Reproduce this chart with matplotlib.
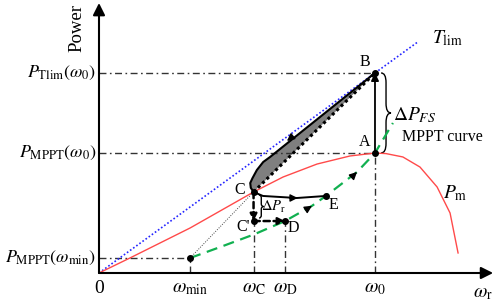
import numpy as np
import matplotlib
matplotlib.use('Agg')
import matplotlib.pyplot as plt
from matplotlib.path import Path
from matplotlib.patches import PathPatch

plt.rcParams['font.family'] = ['Liberation Serif', 'DejaVu Serif']
plt.rcParams['mathtext.fontset'] = 'stix'

# ключевые точки (omega в долях omega0, мощность в долях P_MPPT(omega0))
w_min, w_C, w_D, w_0 = 0.33, 0.56, 0.674, 1.0
P_tlim0 = 1.667
P_mppt0 = 1.0
P_mppt_min = 0.125
P_C = 0.675
P_Cp = 0.433
P_E = 0.642
w_E = 0.822

# кривая P_m
pm_w = [0, 0.112, 0.33, 0.56, 0.667, 0.79, 0.909, 1.0, 1.04, 1.101, 1.163, 1.225, 1.272, 1.301]
pm_p = [0, 0.125, 0.375, 0.675, 0.8, 0.908, 0.975, 1.0, 0.995, 0.967, 0.883, 0.717, 0.5, 0.167]

# кривая MPPT
mppt_w = [0.33, 0.44, 0.56, 0.674, 0.772, 0.822, 0.935, 1.0, 1.065]
mppt_p = [0.125, 0.217, 0.32, 0.433, 0.56, 0.642, 0.842, 1.0, 1.25]

# линия T_lim
tlim_w = [0, 1.156]
tlim_p = [0, 1.927]

# верхняя граница серой области (B -> C)
up_w = [1.0, 0.62, 0.595, 0.572, 0.556, 0.548, 0.55, 0.56]
up_p = [1.667, 0.967, 0.925, 0.858, 0.79, 0.75, 0.71, 0.675]

# путь C -> E
ce_w = [0.56, 0.594, 0.717, 0.822]
ce_p = [0.675, 0.642, 0.625, 0.642]

fig = plt.figure(figsize=(4.98, 3.06), dpi=100)
ax = fig.add_axes([0, 0, 1, 1])
ax.set_xlim(-0.3587, 1.4457)
ax.set_ylim(-0.275, 2.275)
ax.axis('off')

dd = (0, (5, 2.5, 1.2, 2.5))
dcol = '#333333'


def arrow(x1, y1, x2, y2, **kw):
    props = dict(arrowstyle='-|>', color='k', lw=1.3, shrinkA=0, shrinkB=0, mutation_scale=10)
    props.update(kw)
    ax.annotate('', xy=(x2, y2), xytext=(x1, y1), arrowprops=props)


def head(x, y, dx, dy, color='k', ms=11):
    # стрелка-наконечник посреди линии
    n = np.hypot(dx, dy)
    e = 0.03
    arrow(x - e * dx / n, y - e * dy / n, x, y, color=color, lw=1.0, mutation_scale=ms)


def brace(x0, y0, y1, w):
    ym = (y0 + y1) / 2
    h = (y1 - y0)
    verts = [(x0, y1), (x0 + w * 0.5, y1), (x0 + w * 0.5, y1 - h * 0.12), (x0 + w * 0.5, ym + h * 0.12),
             (x0 + w * 0.5, ym), (x0 + w, ym),
             (x0 + w * 0.5, ym), (x0 + w * 0.5, ym - h * 0.12),
             (x0 + w * 0.5, y0 + h * 0.12), (x0 + w * 0.5, y0), (x0, y0)]
    codes = [Path.MOVETO, Path.CURVE3, Path.CURVE3, Path.LINETO,
             Path.CURVE3, Path.CURVE3, Path.CURVE3, Path.CURVE3,
             Path.LINETO, Path.CURVE3, Path.CURVE3]
    ax.add_patch(PathPatch(Path(verts, codes), fill=False, lw=1.0, color='k'))


# оси
arrow(0, 0, 0, 2.25, lw=1.5, mutation_scale=18)
arrow(0, 0, 1.428, 0, lw=1.5, mutation_scale=18)

# штрихпунктирные линии
ax.plot([0, w_0], [P_tlim0, P_tlim0], color=dcol, lw=1, ls=dd)
ax.plot([0, w_0], [P_mppt0, P_mppt0], color=dcol, lw=1, ls=dd)
ax.plot([0, w_min], [P_mppt_min, P_mppt_min], color=dcol, lw=1, ls=dd)
ax.plot([w_min, w_min], [0, P_mppt_min], color=dcol, lw=1, ls=dd)
ax.plot([w_C, w_C], [0, P_Cp], color=dcol, lw=1, ls=dd)
ax.plot([w_D, w_D], [0, P_Cp], color=dcol, lw=1, ls=dd)
ax.plot([w_0, w_0], [0, P_mppt0], color=dcol, lw=1, ls=dd)

# кривые
ax.plot(tlim_w, tlim_p, color='#2525ff', lw=1.2, ls=(0, (1, 1.3)))
ax.plot(pm_w, pm_p, color='#ff4a4a', lw=1.0)
ax.plot(mppt_w, mppt_p, color='#11b050', lw=1.6, ls=(0, (5, 3)))
ax.plot([w_min, w_C], [P_mppt_min, P_C], color='#444444', lw=0.7, ls=(0, (1, 1.5)))

# серая область
poly_w = up_w + [w_0]
poly_p = up_p + [P_tlim0]
ax.fill(poly_w, poly_p, color='#7f7f7f', lw=0)
ax.plot(up_w, up_p, color='k', lw=1.5)
ax.plot([w_C, w_0], [P_C, P_tlim0], color='k', lw=2.2, ls=(0, (1, 1)))
head(0.681, 1.1, -1, -1.84)

# A -> B
arrow(w_0, P_mppt0, w_0, P_tlim0, lw=1.3, mutation_scale=11)

# C -> C' -> D
arrow(w_C, P_C, w_C, P_Cp, lw=1.8, ls=(0, (2.5, 1.5)), mutation_scale=10)
arrow(w_C, P_Cp, w_D, P_Cp, lw=1.8, ls=(0, (2.5, 1.5)), mutation_scale=10)

# C -> E
ax.plot(ce_w, ce_p, color='k', lw=1.4)
head(0.72, 0.625, 1, 0)

# стрелки на кривой MPPT
head(0.772, 0.56, 1, 1.45)
head(0.935, 0.842, 1, 2.2)

# точки
pts_w = [w_0, w_0, w_C, w_C, w_D, w_E, w_min]
pts_p = [P_mppt0, P_tlim0, P_C, P_Cp, P_Cp, P_E, P_mppt_min]
ax.plot(pts_w, pts_p, 'o', color='k', ms=4)

# фигурные скобки
brace(1.022, P_mppt0, P_tlim0, 0.036)
brace(0.58, 0.458, 0.65, 0.016)

# подписи
fs = 14
ax.text(-0.08, 2.04, 'Power', rotation=90, ha='center', va='center', fontsize=13.5)
ax.text(1.391, -0.175, r'$\omega_{\mathrm{r}}$', ha='center', va='center', fontsize=fs)
ax.text(0, -0.06, '0', ha='center', va='top', fontsize=fs)
for w, lab in [(w_min, r'$\omega_{\mathrm{min}}$'), (w_C, r'$\omega_{\mathrm{C}}$'),
               (w_D, r'$\omega_{\mathrm{D}}$'), (w_0, r'$\omega_0$')]:
    ax.text(w, -0.06, lab, ha='center', va='top', fontsize=fs)

for p, lab in [(P_tlim0, r'$P_{\mathrm{Tlim}}(\omega_0)$'), (P_mppt0, r'$P_{\mathrm{MPPT}}(\omega_0)$'),
               (P_mppt_min, r'$P_{\mathrm{MPPT}}(\omega_{\mathrm{min}})$')]:
    ax.text(-0.011, p, lab, ha='right', va='center', fontsize=13)

ax.text(1.261, 1.958, r'$T_{\mathrm{lim}}$', ha='center', va='center', fontsize=fs)
ax.text(1.29, 0.667, r'$P_{\mathrm{m}}$', ha='center', va='center', fontsize=fs)
ax.text(1.065, 1.317, r'$\Delta P_{FS}$', ha='left', va='center', fontsize=fs)
ax.text(1.098, 1.133, 'MPPT curve', ha='left', va='center', fontsize=11.5)
ax.text(0.634, 0.55, r'$\Delta P_{\mathrm{r}}$', ha='center', va='center', fontsize=10.5)

fl = 11.5
ax.text(0.964, 1.758, 'B', ha='center', va='center', fontsize=fl)
ax.text(0.964, 1.092, 'A', ha='center', va='center', fontsize=fl)
ax.text(0.511, 0.692, 'C', ha='center', va='center', fontsize=fl)
ax.text(0.522, 0.383, "C'", ha='center', va='center', fontsize=fl)
ax.text(0.703, 0.375, 'D', ha='center', va='center', fontsize=fl)
ax.text(0.851, 0.567, 'E', ha='center', va='center', fontsize=fl)

fig.savefig('out.png', dpi=100)
